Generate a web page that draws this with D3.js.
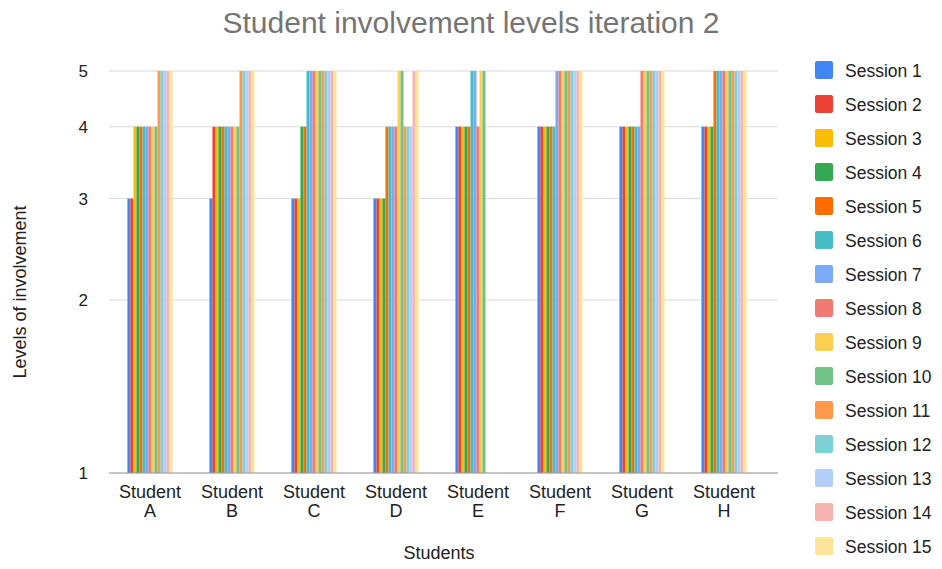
<!DOCTYPE html>
<html><head><meta charset="utf-8">
<script src="https://cdn.jsdelivr.net/npm/d3@7"></script>
<style>body{margin:0;background:#fff;font-family:"Liberation Sans",Arial,sans-serif}</style>
</head><body><svg id="c" width="942" height="569" font-family="Liberation Sans, Arial, sans-serif"></svg>
<script>
const students = ["A","B","C","D","E","F","G","H"];
const sessions = d3.range(1,16).map(i=>"Session "+i);
const colors = ["#4285f4","#ea4335","#fbbc04","#34a853","#ff6d01","#46bdc6","#7baaf7","#f07b72","#fcd04f","#71c287","#ff994d","#7ed1d7","#b3cefb","#f7b4ae","#fde49b"];
const values = {
  A:[3,3,4,4,4,4,4,4,4,4,5,5,5,5,5],
  B:[3,4,4,4,4,4,4,4,4,4,5,5,5,5,5],
  C:[3,3,3,4,4,5,5,5,5,5,5,5,5,5,5],
  D:[3,3,3,3,4,4,4,4,5,5,4,4,4,5,5],
  E:[4,4,4,4,4,5,5,4,5,5,null,null,null,null,null],
  F:[4,4,4,4,4,4,5,5,5,5,5,5,5,5,5],
  G:[4,4,4,4,4,4,4,5,5,5,5,5,5,5,5],
  H:[4,4,4,4,5,5,5,5,5,5,5,5,5,5,5]
};
const yTicks = [1,2,3,4,5];

const svg = d3.select("#c");
const x0 = d3.scaleBand().domain(students).range([109,765]).paddingInner(0.45).paddingOuter(0.225);
const x1 = d3.scaleBand().domain(sessions).range([0,x0.bandwidth()]);
const y = d3.scaleLog().domain([1,5]).range([473,71]);

svg.append("g").selectAll("line").data(yTicks).join("line")
  .attr("x1",109).attr("x2",778).attr("y1",d=>y(d)).attr("y2",d=>y(d))
  .attr("stroke","#d9d9d9").attr("stroke-width",1);

svg.append("g").selectAll("text").data(yTicks).join("text")
  .attr("x",88).attr("y",d=>y(d)+6).attr("text-anchor","end")
  .attr("font-size",17).attr("fill","#222").text(d=>d);

const g = svg.append("g");
students.forEach(s=>{
  g.append("g").attr("transform",`translate(${x0(s)},0)`)
   .selectAll("rect").data(values[s].map((v,i)=>({v,i})).filter(d=>d.v!=null)).join("rect")
   .attr("x",d=>x1(sessions[d.i])).attr("width",x1.bandwidth())
   .attr("y",d=>y(d.v)).attr("height",d=>y(1)-y(d.v))
   .attr("fill",d=>colors[d.i]);
});
svg.append("line").attr("x1",109).attr("x2",778).attr("y1",y(1)).attr("y2",y(1)).attr("stroke","#9e9e9e");

const xl = svg.append("g");
students.forEach(s=>{
  const cx = x0(s)+x0.bandwidth()/2;
  const t = xl.append("text").attr("text-anchor","middle").attr("font-size",18).attr("fill","#222");
  t.append("tspan").attr("x",cx).attr("y",498).text("Student");
  t.append("tspan").attr("x",cx).attr("y",517).text(s);
});

svg.append("text").attr("x",439).attr("y",559).attr("text-anchor","middle").attr("font-size",18).attr("fill","#222").text("Students");
svg.append("text").attr("transform","translate(26,292) rotate(-90)").attr("text-anchor","middle").attr("font-size",18).attr("fill","#222").text("Levels of involvement");

svg.append("text").attr("x",471).attr("y",33).attr("text-anchor","middle").attr("font-size",30).attr("fill","#757575").text("Student involvement levels iteration 2");

const lg = svg.append("g").selectAll("g").data(sessions).join("g")
  .attr("transform",(d,i)=>`translate(815,${61+i*34})`);
lg.append("rect").attr("width",18).attr("height",18).attr("rx",2).attr("fill",(d,i)=>colors[i]);
lg.append("text").attr("x",30).attr("y",15.5).attr("font-size",17.5).attr("fill","#222").text(d=>d);
</script></body></html>
